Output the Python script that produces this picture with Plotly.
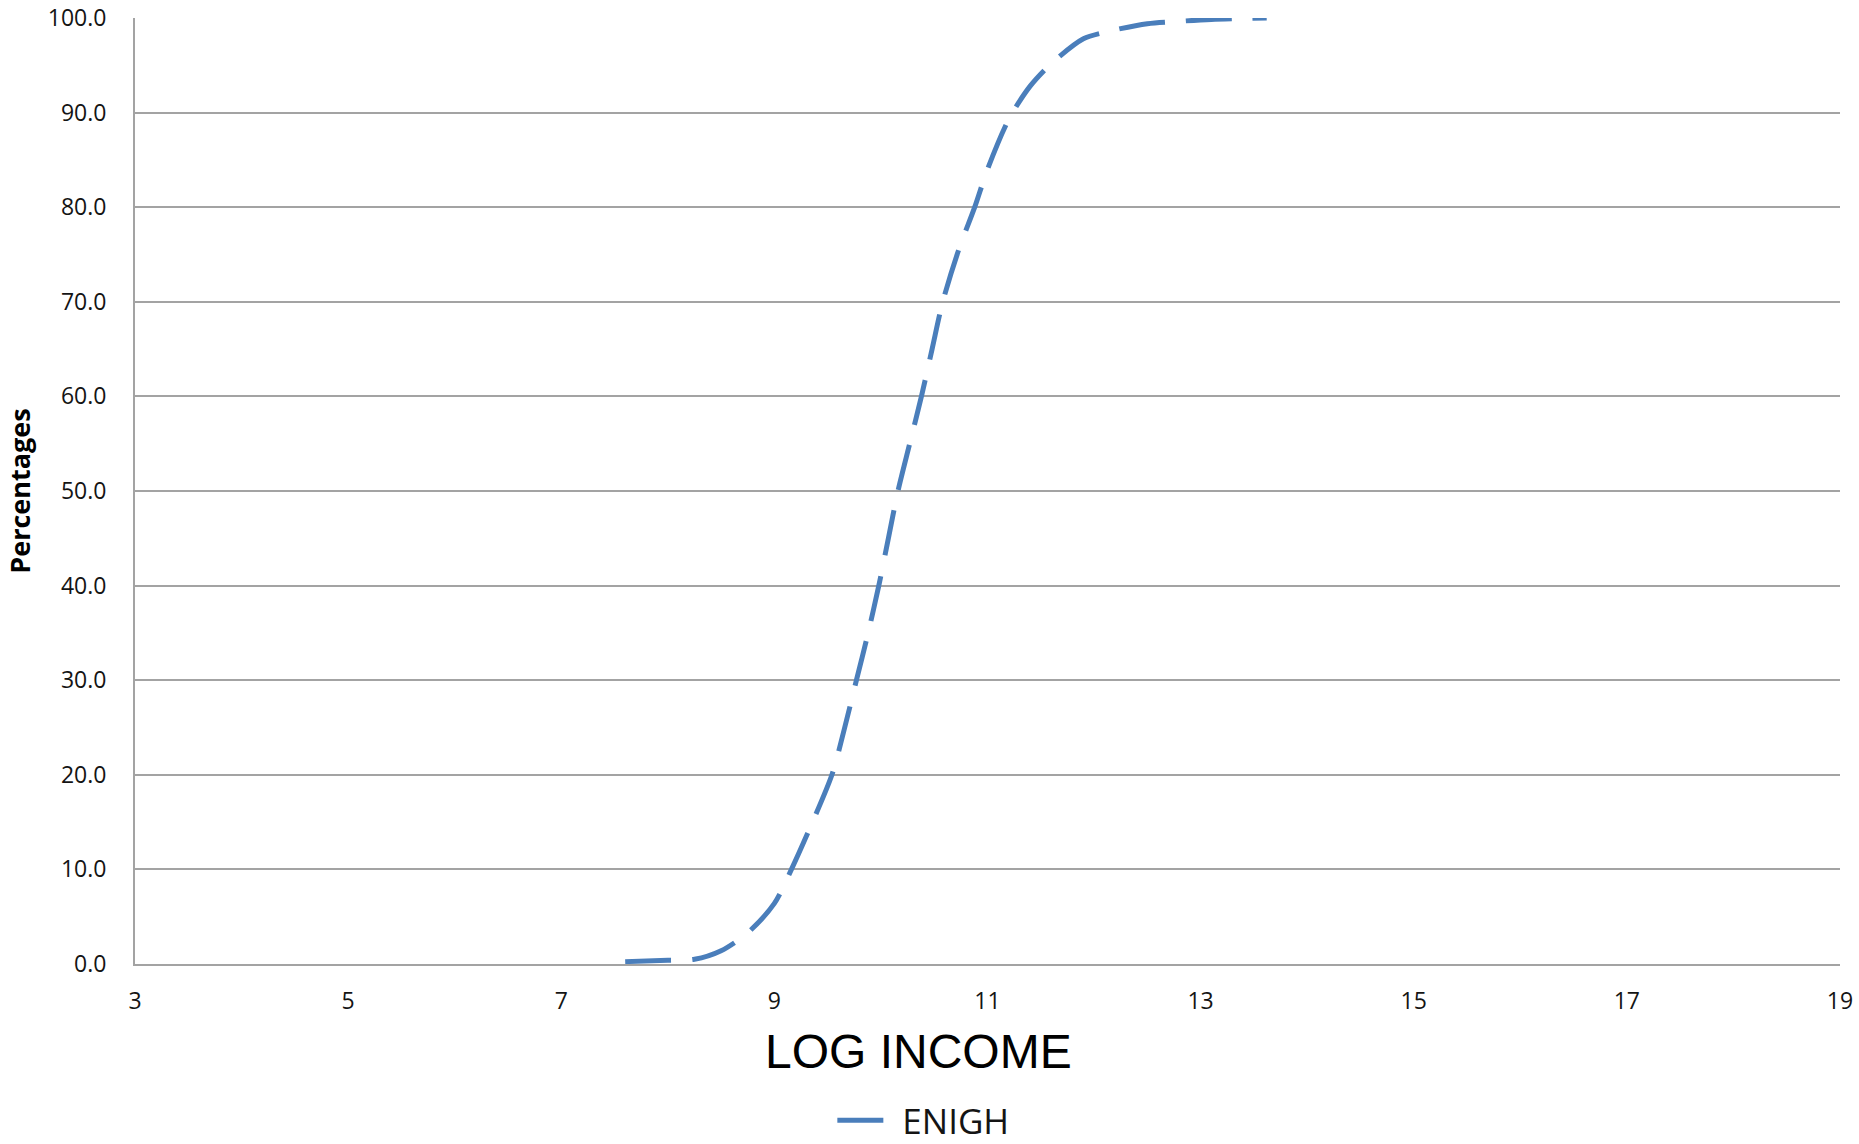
import plotly.graph_objects as go

# Cumulative distribution of log income (ENIGH survey)
log_income = [7.60, 8.00, 8.25, 8.50, 8.75, 9.00, 9.16, 9.35, 9.54, 9.66,
              9.77, 9.88, 9.98, 10.07, 10.16, 10.27, 10.38, 10.48, 10.58,
              10.73, 10.88, 11.00, 11.20, 11.40, 11.60, 11.90, 12.10, 12.50,
              12.80, 13.10, 13.62]
cum_pct = [0.25, 0.4, 0.5, 1.4, 3.3, 6.4, 10.0, 14.8, 20.0, 25.0,
           30.0, 35.0, 40.0, 45.0, 50.0, 55.0, 60.0, 65.0, 70.0,
           75.5, 80.0, 84.0, 89.3, 92.8, 95.2, 97.8, 98.5, 99.4,
           99.65, 99.85, 100.0]

series_name = "ENIGH"
x_title = "LOG INCOME"
y_title = "Percentages"

x_ticks = [3, 5, 7, 9, 11, 13, 15, 17, 19]
y_ticks = [0, 10, 20, 30, 40, 50, 60, 70, 80, 90, 100]

LINE_BLUE = "#4a7ebb"
GRID = "#a3a3a3"
TEXT = "#141414"
TICK_FONT = dict(family="Open Sans", size=23, color=TEXT)

fig = go.Figure()
fig.add_trace(go.Scatter(
    x=log_income, y=cum_pct, name=series_name, mode="lines",
    line=dict(color=LINE_BLUE, width=5, dash="46px,21px",
              shape="spline", smoothing=0.8),
    showlegend=True,
))

fig.update_layout(
    width=1859, height=1144,
    margin=dict(l=135, r=19, t=18, b=180, autoexpand=False),
    paper_bgcolor="white", plot_bgcolor="white",
    showlegend=True,
    legend=dict(orientation="h", x=0.409, xanchor="left", xref="paper",
                y=0.0205, yanchor="middle", yref="container",
                font=dict(family="Open Sans", size=35, color=TEXT),
                itemwidth=60, bgcolor="rgba(0,0,0,0)"),
    xaxis=dict(range=[3, 19], tickvals=x_ticks, showgrid=False, zeroline=False,
               showline=True, linecolor=GRID, linewidth=2, automargin=False,
               ticks="outside", ticklen=15, tickcolor="rgba(0,0,0,0)",
               tickfont=TICK_FONT),
    yaxis=dict(range=[0, 100], tickvals=y_ticks, tickformat=".1f",
               showgrid=True, gridcolor=GRID, gridwidth=2, zeroline=False,
               showline=True, linecolor=GRID, linewidth=2, automargin=False,
               ticks="outside", ticklen=22, tickcolor="rgba(0,0,0,0)",
               tickfont=TICK_FONT,
               title=dict(text=y_title, standoff=9,
                          font=dict(family="Open Sans", size=27, color="black",
                                    weight="bold"))),
    annotations=[dict(text=x_title, xref="paper", yref="paper",
                      x=0.4598, y=-0.093, xanchor="center", yanchor="middle",
                      showarrow=False,
                      font=dict(family="Liberation Sans", size=48, color="black"))],
)

fig.write_html("out.html")
